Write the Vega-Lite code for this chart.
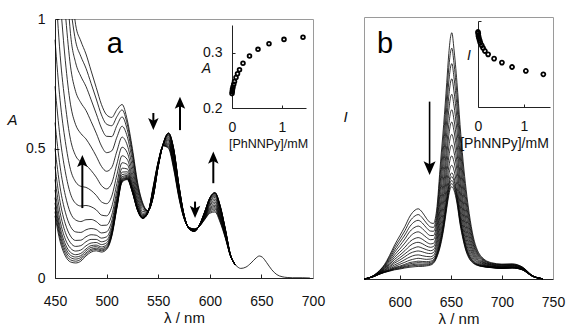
{
  "$schema": "https://vega.github.io/schema/vega-lite/v6.json",
  "width": 566,
  "height": 326,
  "autosize": "none",
  "padding": 0,
  "background": "white",
  "config": {
    "view": {"stroke": null},
    "font": "Liberation Sans",
    "axis": {
      "grid": false, "labelFlush": false, "labelOverlap": false,
      "domainColor": "#222", "tickColor": "#222", "labelColor": "#111", "titleColor": "#111",
      "labelFont": "Liberation Sans", "titleFont": "Liberation Sans",
      "labelFontSize": 14, "titleFontWeight": "normal", "titleFontSize": 15
    }
  },
  "datasets": {
    "absA": [
      {"w":450,"a":0.24,"b":0.256,"c":0.272,"d":0.29,"e":0.31,"f":0.34,"g":0.38,"h":0.43,"i":0.5,"j":0.6,"k":0.74,"l":0.92},
      {"w":452.5,"m":1},
      {"w":455,"a":0.14,"b":0.153,"c":0.166,"d":0.18,"e":0.196,"f":0.22,"g":0.252,"h":0.292,"i":0.348,"j":0.428,"k":0.54,"l":0.684,"m":0.86},
      {"w":456.5,"n":1},
      {"w":460,"a":0.085,"b":0.095,"c":0.106,"d":0.118,"e":0.131,"f":0.15,"g":0.176,"h":0.209,"i":0.254,"j":0.319,"k":0.41,"l":0.527,"m":0.67,"n":0.839},
      {"w":460.5,"o":1},
      {"w":463.8,"p":1},
      {"w":465,"a":0.062,"b":0.07,"c":0.079,"d":0.088,"e":0.099,"f":0.115,"g":0.136,"h":0.162,"i":0.199,"j":0.251,"k":0.325,"l":0.419,"m":0.535,"n":0.671,"o":0.818,"p":0.944},
      {"w":466.6,"q":1},
      {"w":469.2,"r":1},
      {"w":470,"a":0.058,"b":0.065,"c":0.073,"d":0.081,"e":0.09,"f":0.104,"g":0.122,"h":0.145,"i":0.178,"j":0.224,"k":0.288,"l":0.371,"m":0.472,"n":0.592,"o":0.72,"p":0.831,"q":0.914,"r":0.978},
      {"w":475,"a":0.065,"b":0.072,"c":0.079,"d":0.086,"e":0.095,"f":0.108,"g":0.125,"h":0.146,"i":0.176,"j":0.218,"k":0.278,"l":0.354,"m":0.448,"n":0.558,"o":0.677,"p":0.779,"q":0.856,"r":0.915},
      {"w":480,"a":0.085,"b":0.091,"c":0.097,"d":0.105,"e":0.112,"f":0.124,"g":0.14,"h":0.159,"i":0.186,"j":0.225,"k":0.28,"l":0.35,"m":0.436,"n":0.537,"o":0.647,"p":0.74,"q":0.81,"r":0.865},
      {"w":485,"a":0.1,"b":0.106,"c":0.111,"d":0.118,"e":0.125,"f":0.135,"g":0.149,"h":0.167,"i":0.191,"j":0.226,"k":0.275,"l":0.338,"m":0.415,"n":0.506,"o":0.604,"p":0.688,"q":0.751,"r":0.8},
      {"w":490,"a":0.105,"b":0.11,"c":0.115,"d":0.121,"e":0.127,"f":0.137,"g":0.149,"h":0.165,"i":0.187,"j":0.218,"k":0.263,"l":0.319,"m":0.389,"n":0.47,"o":0.559,"p":0.634,"q":0.691,"r":0.735},
      {"w":495,"a":0.1,"b":0.105,"c":0.109,"d":0.114,"e":0.12,"f":0.129,"g":0.14,"h":0.154,"i":0.174,"j":0.203,"k":0.243,"l":0.294,"m":0.357,"n":0.431,"o":0.51,"p":0.579,"q":0.63,"r":0.67},
      {"w":500,"a":0.11,"b":0.114,"c":0.118,"d":0.123,"e":0.128,"f":0.136,"g":0.146,"h":0.159,"i":0.178,"j":0.204,"k":0.24,"l":0.287,"m":0.344,"n":0.412,"o":0.484,"p":0.547,"q":0.594,"r":0.63},
      {"w":505,"a":0.16,"b":0.164,"c":0.167,"d":0.172,"e":0.176,"f":0.183,"g":0.192,"h":0.204,"i":0.22,"j":0.243,"k":0.275,"l":0.316,"m":0.367,"n":0.427,"o":0.491,"p":0.546,"q":0.588,"r":0.62},
      {"w":510,"a":0.27,"b":0.273,"c":0.276,"d":0.28,"e":0.283,"f":0.289,"g":0.297,"h":0.306,"i":0.319,"j":0.338,"k":0.365,"l":0.399,"m":0.441,"n":0.49,"o":0.544,"p":0.589,"q":0.623,"r":0.65},
      {"w":515,"a":0.37,"b":0.372,"c":0.375,"d":0.378,"e":0.381,"f":0.385,"g":0.391,"h":0.399,"i":0.409,"j":0.424,"k":0.445,"l":0.472,"m":0.505,"n":0.544,"o":0.586,"p":0.622,"q":0.649,"r":0.67},
      {"w":520,"a":0.38,"b":0.382,"c":0.384,"d":0.386,"e":0.388,"f":0.392,"g":0.396,"h":0.402,"i":0.41,"j":0.421,"k":0.438,"l":0.458,"m":0.484,"n":0.513,"o":0.546,"p":0.573,"q":0.594,"r":0.61},
      {"w":525,"a":0.33,"b":0.331,"c":0.333,"d":0.334,"e":0.336,"f":0.339,"g":0.342,"h":0.346,"i":0.352,"j":0.361,"k":0.373,"l":0.388,"m":0.407,"n":0.429,"o":0.452,"p":0.473,"q":0.488,"r":0.5},
      {"w":530,"a":0.26,"b":0.261,"c":0.262,"d":0.263,"e":0.264,"f":0.266,"g":0.268,"h":0.27,"i":0.274,"j":0.28,"k":0.288,"l":0.297,"m":0.31,"n":0.324,"o":0.339,"p":0.352,"q":0.362,"r":0.37},
      {"w":535,"a":0.23,"b":0.23,"c":0.231,"d":0.232,"e":0.232,"f":0.233,"g":0.234,"h":0.236,"i":0.238,"j":0.241,"k":0.245,"l":0.25,"m":0.257,"n":0.265,"o":0.273,"p":0.28,"q":0.286,"r":0.29},
      {"w":540,"a":0.25,"b":0.251,"c":0.251,"d":0.252,"e":0.253,"f":0.254,"g":0.254,"h":0.255,"i":0.256,"j":0.257,"k":0.257,"l":0.258,"m":0.259,"n":0.259,"o":0.26,"p":0.26,"q":0.26,"r":0.26},
      {"w":545,"a":0.35,"b":0.347,"c":0.344,"d":0.342,"e":0.339,"f":0.336,"g":0.333,"h":0.33,"i":0.326,"j":0.323,"k":0.32,"l":0.318,"m":0.315,"n":0.313,"o":0.312,"p":0.311,"q":0.31,"r":0.31},
      {"w":550,"a":0.45,"b":0.449,"c":0.447,"d":0.446,"e":0.444,"f":0.443,"g":0.441,"h":0.44,"i":0.438,"j":0.437,"k":0.435,"l":0.434,"m":0.433,"n":0.432,"o":0.431,"p":0.43,"q":0.43,"r":0.43},
      {"w":555,"a":0.51,"b":0.511,"c":0.511,"d":0.512,"e":0.513,"f":0.514,"g":0.514,"h":0.515,"i":0.516,"j":0.517,"k":0.517,"l":0.518,"m":0.519,"n":0.519,"o":0.52,"p":0.52,"q":0.52,"r":0.52},
      {"w":560,"a":0.5,"b":0.504,"c":0.508,"d":0.513,"e":0.517,"f":0.521,"g":0.526,"h":0.531,"i":0.535,"j":0.54,"k":0.544,"l":0.549,"m":0.552,"n":0.555,"o":0.558,"p":0.559,"q":0.559,"r":0.56},
      {"w":565,"a":0.42,"b":0.426,"c":0.431,"d":0.437,"e":0.442,"f":0.448,"g":0.454,"h":0.461,"i":0.467,"j":0.474,"k":0.479,"l":0.485,"m":0.49,"n":0.494,"o":0.497,"p":0.498,"q":0.499,"r":0.5},
      {"w":570,"a":0.31,"b":0.314,"c":0.317,"d":0.321,"e":0.324,"f":0.328,"g":0.332,"h":0.336,"i":0.34,"j":0.344,"k":0.347,"l":0.351,"m":0.354,"n":0.356,"o":0.358,"p":0.359,"q":0.36,"r":0.36},
      {"w":575,"a":0.23,"b":0.231,"c":0.232,"d":0.233,"e":0.234,"f":0.235,"g":0.236,"h":0.238,"i":0.239,"j":0.24,"k":0.241,"l":0.242,"m":0.243,"n":0.244,"o":0.244,"p":0.245,"q":0.245,"r":0.245},
      {"w":580,"a":0.195,"b":0.195,"c":0.194,"d":0.194,"e":0.194,"f":0.193,"g":0.193,"h":0.192,"i":0.192,"j":0.192,"k":0.191,"l":0.191,"m":0.191,"n":0.19,"o":0.19,"p":0.19,"q":0.19,"r":0.19},
      {"w":585,"a":0.19,"b":0.189,"c":0.189,"d":0.188,"e":0.187,"f":0.187,"g":0.186,"h":0.185,"i":0.184,"j":0.183,"k":0.183,"l":0.182,"m":0.181,"n":0.181,"o":0.18,"p":0.18,"q":0.18,"r":0.18},
      {"w":590,"a":0.2,"b":0.2,"c":0.201,"d":0.201,"e":0.201,"f":0.202,"g":0.202,"h":0.203,"i":0.203,"j":0.203,"k":0.204,"l":0.204,"m":0.204,"n":0.205,"o":0.205,"p":0.205,"q":0.205,"r":0.205},
      {"w":595,"a":0.225,"b":0.227,"c":0.229,"d":0.231,"e":0.233,"f":0.236,"g":0.238,"h":0.24,"i":0.243,"j":0.245,"k":0.247,"l":0.249,"m":0.251,"n":0.253,"o":0.254,"p":0.254,"q":0.255,"r":0.255},
      {"w":600,"a":0.25,"b":0.254,"c":0.258,"d":0.263,"e":0.267,"f":0.271,"g":0.276,"h":0.281,"i":0.285,"j":0.29,"k":0.294,"l":0.299,"m":0.302,"n":0.305,"o":0.308,"p":0.309,"q":0.309,"r":0.31},
      {"w":605,"a":0.255,"b":0.26,"c":0.266,"d":0.271,"e":0.276,"f":0.281,"g":0.287,"h":0.293,"i":0.299,"j":0.305,"k":0.311,"l":0.316,"m":0.32,"n":0.324,"o":0.327,"p":0.329,"q":0.329,"r":0.33},
      {"w":610,"a":0.215,"b":0.22,"c":0.224,"d":0.229,"e":0.233,"f":0.238,"g":0.243,"h":0.248,"i":0.253,"j":0.259,"k":0.263,"l":0.268,"m":0.272,"n":0.275,"o":0.277,"p":0.279,"q":0.279,"r":0.28},
      {"w":615,"a":0.155,"b":0.157,"c":0.16,"d":0.162,"e":0.165,"f":0.167,"g":0.17,"h":0.173,"i":0.176,"j":0.178,"k":0.181,"l":0.183,"m":0.185,"n":0.187,"o":0.189,"p":0.189,"q":0.19,"r":0.19},
      {"w":620,"a":0.085,"b":0.085,"c":0.086,"d":0.086,"e":0.086,"f":0.087,"g":0.087,"h":0.088,"i":0.088,"j":0.088,"k":0.089,"l":0.089,"m":0.089,"n":0.09,"o":0.09,"p":0.09,"q":0.09,"r":0.09},
      {"w":625,"a":0.05,"b":0.05,"c":0.05,"d":0.05,"e":0.05,"f":0.05,"g":0.05,"h":0.05,"i":0.05,"j":0.05,"k":0.05,"l":0.05,"m":0.05,"n":0.05,"o":0.05,"p":0.05,"q":0.05,"r":0.05}
    ],
    "tailA": [
      {"w":625,"A":0.05},{"w":630,"A":0.037},{"w":635,"A":0.042},{"w":640,"A":0.058},{"w":645,"A":0.078},
      {"w":648,"A":0.085},{"w":651,"A":0.08},{"w":655,"A":0.06},{"w":660,"A":0.032},{"w":665,"A":0.013},
      {"w":670,"A":0.005},{"w":675,"A":0.002},{"w":680,"A":0.001},{"w":690,"A":0.001},{"w":697,"A":0}
    ],
    "arrA": [
      {"x":476.5,"t":0.27,"e":0.455,"h":0.475,"d":"up"},
      {"x":545.3,"t":0.637,"e":0.59,"h":0.571,"d":"down"},
      {"x":571.1,"t":0.571,"e":0.68,"h":0.7,"d":"up"},
      {"x":585.7,"t":0.295,"e":0.25,"h":0.232,"d":"down"},
      {"x":603.4,"t":0.366,"e":0.468,"h":0.488,"d":"up"}
    ],
    "arrB": [
      {"x":629.2,"t":0.677,"e":0.42,"h":0.397,"d":"down"}
    ],
    "inA": [
      {"c":0,"A":0.226},{"c":0.005,"A":0.23},{"c":0.01,"A":0.234},{"c":0.02,"A":0.238},{"c":0.035,"A":0.243},
      {"c":0.05,"A":0.248},{"c":0.08,"A":0.255},{"c":0.11,"A":0.262},{"c":0.15,"A":0.269},{"c":0.22,"A":0.281},
      {"c":0.35,"A":0.294},{"c":0.52,"A":0.306},{"c":0.74,"A":0.316},{"c":1.04,"A":0.324},{"c":1.42,"A":0.328}
    ],
    "inB": [
      {"c":0,"I":0.872},{"c":0.005,"I":0.853},{"c":0.01,"I":0.826},{"c":0.02,"I":0.802},{"c":0.035,"I":0.775},
      {"c":0.05,"I":0.748},{"c":0.08,"I":0.717},{"c":0.11,"I":0.686},{"c":0.15,"I":0.651},{"c":0.22,"I":0.612},
      {"c":0.35,"I":0.562},{"c":0.52,"I":0.516},{"c":0.74,"I":0.465},{"c":1.04,"I":0.419},{"c":1.42,"I":0.38}
    ],
    "fluB": [
      {"w":565,"a":0,"b":0,"c":0,"d":0,"e":0,"f":0,"g":0,"h":0,"i":0,"j":0,"k":0,"l":0,"m":0,"n":0,"o":0,"p":0},
      {"w":570,"a":0.005,"b":0.005,"c":0.005,"d":0.005,"e":0.005,"f":0.005,"g":0.005,"h":0.004,"i":0.004,"j":0.004,"k":0.004,"l":0.004,"m":0.004,"n":0.004,"o":0.004,"p":0.004},
      {"w":575,"a":0.015,"b":0.015,"c":0.014,"d":0.014,"e":0.013,"f":0.013,"g":0.012,"h":0.012,"i":0.011,"j":0.011,"k":0.011,"l":0.01,"m":0.01,"n":0.01,"o":0.01,"p":0.01},
      {"w":580,"a":0.032,"b":0.031,"c":0.029,"d":0.028,"e":0.026,"f":0.025,"g":0.024,"h":0.023,"i":0.022,"j":0.021,"k":0.02,"l":0.019,"m":0.019,"n":0.018,"o":0.0185,"p":0.019},
      {"w":585,"a":0.055,"b":0.052,"c":0.049,"d":0.046,"e":0.043,"f":0.04,"g":0.038,"h":0.035,"i":0.033,"j":0.031,"k":0.029,"l":0.028,"m":0.026,"n":0.025,"o":0.0255,"p":0.027},
      {"w":590,"a":0.09,"b":0.084,"c":0.078,"d":0.072,"e":0.066,"f":0.06,"g":0.055,"h":0.05,"i":0.046,"j":0.042,"k":0.038,"l":0.035,"m":0.032,"n":0.03,"o":0.031,"p":0.0335},
      {"w":595,"a":0.13,"b":0.121,"c":0.111,"d":0.102,"e":0.092,"f":0.083,"g":0.075,"h":0.067,"i":0.061,"j":0.054,"k":0.048,"l":0.044,"m":0.039,"n":0.035,"o":0.037,"p":0.0415},
      {"w":600,"a":0.165,"b":0.152,"c":0.14,"d":0.127,"e":0.114,"f":0.102,"g":0.091,"h":0.081,"i":0.072,"j":0.063,"k":0.056,"l":0.049,"m":0.043,"n":0.038,"o":0.0405,"p":0.046},
      {"w":605,"a":0.2,"b":0.184,"c":0.168,"d":0.153,"e":0.137,"f":0.121,"g":0.108,"h":0.096,"i":0.085,"j":0.074,"k":0.064,"l":0.056,"m":0.048,"n":0.042,"o":0.045,"p":0.052},
      {"w":610,"a":0.24,"b":0.221,"c":0.201,"d":0.182,"e":0.162,"f":0.143,"g":0.127,"h":0.111,"i":0.098,"j":0.084,"k":0.072,"l":0.063,"m":0.053,"n":0.045,"o":0.049,"p":0.058},
      {"w":615,"a":0.263,"b":0.241,"c":0.22,"d":0.198,"e":0.177,"f":0.155,"g":0.138,"h":0.12,"i":0.105,"j":0.091,"k":0.077,"l":0.066,"m":0.056,"n":0.047,"o":0.0515,"p":0.061},
      {"w":618,"a":0.268,"b":0.246,"c":0.224,"d":0.202,"e":0.18,"f":0.158,"g":0.14,"h":0.123,"i":0.107,"j":0.092,"k":0.079,"l":0.068,"m":0.057,"n":0.048,"o":0.0525,"p":0.0625},
      {"w":622,"a":0.255,"b":0.234,"c":0.214,"d":0.193,"e":0.172,"f":0.152,"g":0.135,"h":0.118,"i":0.104,"j":0.089,"k":0.077,"l":0.067,"m":0.056,"n":0.048,"o":0.052,"p":0.0615},
      {"w":626,"a":0.232,"b":0.214,"c":0.196,"d":0.177,"e":0.159,"f":0.141,"g":0.126,"h":0.112,"i":0.099,"j":0.086,"k":0.075,"l":0.066,"m":0.057,"n":0.05,"o":0.0535,"p":0.0615},
      {"w":630,"a":0.215,"b":0.199,"c":0.183,"d":0.166,"e":0.15,"f":0.134,"g":0.121,"h":0.108,"i":0.097,"j":0.085,"k":0.076,"l":0.068,"m":0.059,"n":0.053,"o":0.056,"p":0.0635},
      {"w":633,"a":0.212,"b":0.197,"c":0.182,"d":0.166,"e":0.151,"f":0.136,"g":0.124,"h":0.112,"i":0.101,"j":0.09,"k":0.081,"l":0.074,"m":0.066,"n":0.06,"o":0.063,"p":0.07},
      {"w":636,"a":0.26,"b":0.242,"c":0.224,"d":0.206,"e":0.188,"f":0.17,"g":0.156,"h":0.141,"i":0.129,"j":0.116,"k":0.105,"l":0.096,"m":0.087,"n":0.08,"o":0.0835,"p":0.0915},
      {"w":640,"a":0.45,"b":0.418,"c":0.386,"d":0.354,"e":0.322,"f":0.29,"g":0.264,"h":0.239,"i":0.216,"j":0.194,"k":0.175,"l":0.159,"m":0.143,"n":0.13,"o":0.1365,"p":0.151},
      {"w":643,"a":0.59,"b":0.55,"c":0.51,"d":0.47,"e":0.43,"f":0.39,"g":0.358,"h":0.326,"i":0.298,"j":0.27,"k":0.246,"l":0.226,"m":0.206,"n":0.19,"o":0.198,"p":0.216},
      {"w":646,"a":0.75,"b":0.702,"c":0.654,"d":0.606,"e":0.558,"f":0.51,"g":0.472,"h":0.433,"i":0.4,"j":0.366,"k":0.337,"l":0.313,"m":0.289,"n":0.27,"o":0.2795,"p":0.301},
      {"w":648,"a":0.86,"b":0.806,"c":0.752,"d":0.698,"e":0.644,"f":0.59,"g":0.547,"h":0.504,"i":0.466,"j":0.428,"k":0.396,"l":0.369,"m":0.342,"n":0.32,"o":0.331,"p":0.3555},
      {"w":650,"a":0.93,"b":0.872,"c":0.814,"d":0.756,"e":0.698,"f":0.64,"g":0.594,"h":0.547,"i":0.507,"j":0.466,"k":0.431,"l":0.402,"m":0.373,"n":0.35,"o":0.3615,"p":0.3875},
      {"w":651,"a":0.94,"b":0.881,"c":0.822,"d":0.764,"e":0.705,"f":0.646,"g":0.599,"h":0.552,"i":0.511,"j":0.47,"k":0.434,"l":0.405,"m":0.376,"n":0.352,"o":0.364,"p":0.3905},
      {"w":653,"a":0.88,"b":0.826,"c":0.772,"d":0.718,"e":0.664,"f":0.61,"g":0.567,"h":0.524,"i":0.486,"j":0.448,"k":0.416,"l":0.389,"m":0.362,"n":0.34,"o":0.351,"p":0.3755},
      {"w":656,"a":0.75,"b":0.704,"c":0.658,"d":0.612,"e":0.566,"f":0.52,"g":0.483,"h":0.446,"i":0.414,"j":0.382,"k":0.354,"l":0.331,"m":0.308,"n":0.29,"o":0.299,"p":0.3195},
      {"w":659,"a":0.59,"b":0.552,"c":0.514,"d":0.476,"e":0.438,"f":0.4,"g":0.37,"h":0.339,"i":0.313,"j":0.286,"k":0.263,"l":0.244,"m":0.225,"n":0.21,"o":0.2175,"p":0.2345},
      {"w":662,"a":0.45,"b":0.42,"c":0.39,"d":0.36,"e":0.33,"f":0.3,"g":0.276,"h":0.252,"i":0.231,"j":0.21,"k":0.192,"l":0.177,"m":0.162,"n":0.15,"o":0.156,"p":0.1695},
      {"w":665,"a":0.34,"b":0.317,"c":0.293,"d":0.27,"e":0.246,"f":0.223,"g":0.204,"h":0.185,"i":0.168,"j":0.152,"k":0.138,"l":0.126,"m":0.114,"n":0.105,"o":0.1095,"p":0.12},
      {"w":668,"a":0.25,"b":0.233,"c":0.216,"d":0.198,"e":0.181,"f":0.164,"g":0.15,"h":0.136,"i":0.124,"j":0.112,"k":0.102,"l":0.093,"m":0.085,"n":0.078,"o":0.0815,"p":0.089},
      {"w":672,"a":0.16,"b":0.15,"c":0.14,"d":0.13,"e":0.12,"f":0.11,"g":0.102,"h":0.094,"i":0.087,"j":0.08,"k":0.074,"l":0.069,"m":0.064,"n":0.06,"o":0.062,"p":0.0665},
      {"w":676,"a":0.11,"b":0.104,"c":0.098,"d":0.093,"e":0.087,"f":0.081,"g":0.076,"h":0.072,"i":0.068,"j":0.064,"k":0.06,"l":0.057,"m":0.054,"n":0.052,"o":0.053,"p":0.0555},
      {"w":680,"a":0.085,"b":0.081,"c":0.078,"d":0.074,"e":0.07,"f":0.067,"g":0.064,"h":0.061,"i":0.058,"j":0.055,"k":0.053,"l":0.051,"m":0.049,"n":0.048,"o":0.0485,"p":0.05},
      {"w":690,"a":0.062,"b":0.06,"c":0.058,"d":0.056,"e":0.054,"f":0.053,"g":0.051,"h":0.049,"i":0.048,"j":0.047,"k":0.046,"l":0.045,"m":0.044,"n":0.043,"o":0.0435,"p":0.0445},
      {"w":700,"a":0.057,"b":0.055,"c":0.054,"d":0.052,"e":0.05,"f":0.049,"g":0.047,"h":0.046,"i":0.045,"j":0.043,"k":0.042,"l":0.042,"m":0.041,"n":0.04,"o":0.0405,"p":0.0415},
      {"w":710,"a":0.058,"b":0.056,"c":0.055,"d":0.053,"e":0.052,"f":0.05,"g":0.049,"h":0.047,"i":0.046,"j":0.045,"k":0.044,"l":0.043,"m":0.043,"n":0.042,"o":0.0425,"p":0.043},
      {"w":720,"a":0.046,"b":0.045,"c":0.044,"d":0.043,"e":0.042,"f":0.041,"g":0.04,"h":0.039,"i":0.038,"j":0.037,"k":0.037,"l":0.036,"m":0.035,"n":0.035,"o":0.035,"p":0.0355},
      {"w":730,"a":0.013,"b":0.013,"c":0.012,"d":0.012,"e":0.012,"f":0.012,"g":0.011,"h":0.011,"i":0.011,"j":0.011,"k":0.01,"l":0.01,"m":0.01,"n":0.01,"o":0.01,"p":0.01},
      {"w":740,"a":0.001,"b":0.001,"c":0.001,"d":0.001,"e":0.001,"f":0.001,"g":0.001,"h":0.001,"i":0.001,"j":0.001,"k":0.001,"l":0.001,"m":0.001,"n":0.001,"o":0.001,"p":0.001}
    ]
  },
  "resolve": {
    "scale": {"x": "independent", "y": "independent"},
    "axis": {"x": "independent", "y": "independent"}
  },
  "layer": [
    {
      "data": {"name": "absA"},
      "transform": [
        {"fold": ["a","b","c","d","e","f","g","h","i","j","k","l","m","n","o","p","q","r"], "as": ["key","A"]},
        {"filter": "isValid(datum.A)"}
      ],
      "mark": {"type": "line", "interpolate": "monotone", "color": "black", "strokeWidth": 0.8},
      "encoding": {
        "x": {"field": "w", "type": "quantitative",
          "scale": {"domain": [450,700], "range": [55,313], "nice": false, "zero": false},
          "axis": {"orient": "bottom", "offset": -48, "values": [450,500,550,600,650,700], "tickSize": -4, "labelPadding": 20,
            "title": "λ / nm", "titleX": 184, "titleY": 44, "titleAlign": "center", "titleBaseline": "alphabetic"}},
        "y": {"field": "A", "type": "quantitative",
          "scale": {"domain": [0,1], "range": [278,19], "nice": false, "zero": false},
          "axis": {"orient": "left", "offset": -55, "values": [0,0.5,1], "format": "~g", "tickSize": -4, "labelPadding": 14,
            "title": "A", "titleFontStyle": "italic", "titleAngle": 0, "titleX": -43, "titleY": 119, "titleAlign": "center", "titleBaseline": "middle"}},
        "detail": {"field": "key", "type": "nominal"}
      }
    },
    {
      "data": {"name": "tailA"},
      "mark": {"type": "line", "interpolate": "monotone", "color": "black", "strokeWidth": 0.8},
      "encoding": {
        "x": {"field": "w", "type": "quantitative",
          "scale": {"domain": [450,700], "range": [55,313], "nice": false, "zero": false},
          "axis": {"orient": "top", "offset": -19, "domainColor": "#9a9a9a", "ticks": false, "labels": false, "title": null}},
        "y": {"field": "A", "type": "quantitative",
          "scale": {"domain": [0,1], "range": [278,19], "nice": false, "zero": false},
          "axis": {"orient": "right", "offset": -253, "domainColor": "#9a9a9a", "ticks": false, "labels": false, "title": null}}
      }
    },
    {
      "data": {"name": "arrA"},
      "mark": {"type": "rule", "color": "black", "strokeWidth": 2},
      "encoding": {
        "x": {"field": "x", "type": "quantitative", "scale": {"domain": [450,700], "range": [55,313], "nice": false, "zero": false}, "axis": null},
        "y": {"field": "t", "type": "quantitative", "scale": {"domain": [0,1], "range": [278,19], "nice": false, "zero": false}, "axis": null},
        "y2": {"field": "e"}
      }
    },
    {
      "data": {"name": "arrA"},
      "mark": {"type": "point", "filled": true, "color": "black", "opacity": 1, "size": 110, "strokeWidth": 0},
      "encoding": {
        "x": {"field": "x", "type": "quantitative", "scale": {"domain": [450,700], "range": [55,313], "nice": false, "zero": false}, "axis": null},
        "y": {"field": "h", "type": "quantitative", "scale": {"domain": [0,1], "range": [278,19], "nice": false, "zero": false}, "axis": null},
        "shape": {"field": "d", "type": "nominal", "legend": null,
          "scale": {"domain": ["up","down"], "range": ["M0,0L1,2.3L0,1.8L-1,2.3Z", "M0,0L1,-2.3L0,-1.8L-1,-2.3Z"]}}
      }
    },
    {
      "data": {"values": [{"x": 508, "y": 0.869, "t": "a"}]},
      "mark": {"type": "text", "fontSize": 29, "align": "center", "baseline": "alphabetic", "color": "black", "font": "Liberation Sans"},
      "encoding": {
        "x": {"field": "x", "type": "quantitative", "scale": {"domain": [450,700], "range": [55,313], "nice": false, "zero": false}, "axis": null},
        "y": {"field": "y", "type": "quantitative", "scale": {"domain": [0,1], "range": [278,19], "nice": false, "zero": false}, "axis": null},
        "text": {"field": "t"}
      }
    },
    {
      "data": {"name": "inA"},
      "mark": {"type": "point", "shape": "circle", "filled": false, "color": "black", "strokeWidth": 1.8, "size": 14, "opacity": 1},
      "encoding": {
        "x": {"field": "c", "type": "quantitative",
          "scale": {"domain": [0,1.48], "range": [232,306], "nice": false, "zero": false},
          "axis": {"orient": "bottom", "offset": -218, "values": [0,1], "format": "d", "tickSize": -3, "labelPadding": 15,
            "title": "[PhNNPy]/mM", "titleFontSize": 12.5, "titleX": 268, "titleY": 39, "titleAlign": "center", "titleBaseline": "alphabetic"}},
        "y": {"field": "A", "type": "quantitative",
          "scale": {"domain": [0.2,0.35], "range": [108,25], "nice": false, "zero": false},
          "axis": {"orient": "left", "offset": -232, "values": [0.2,0.3], "format": ".1f", "tickSize": -3, "labelPadding": 13,
            "title": "A", "titleFontSize": 14, "titleFontStyle": "italic", "titleAngle": 0, "titleX": -26, "titleY": 68, "titleAlign": "center", "titleBaseline": "middle"}}
      }
    },
    {
      "data": {"name": "fluB"},
      "transform": [
        {"fold": ["a","b","c","d","e","f","g","h","i","j","k","l","m","n","o","p"], "as": ["key","I"]},
        {"filter": "isValid(datum.I)"}
      ],
      "mark": {"type": "line", "interpolate": "monotone", "color": "black", "strokeWidth": 0.8},
      "encoding": {
        "x": {"field": "w", "type": "quantitative",
          "scale": {"domain": [565,750], "range": [364,553], "nice": false, "zero": false},
          "axis": {"orient": "bottom", "offset": -47, "values": [600,650,700,750], "tickSize": -4, "labelPadding": 20,
            "title": "λ / nm", "titleX": 458.5, "titleY": 44, "titleAlign": "center", "titleBaseline": "alphabetic"}},
        "y": {"field": "I", "type": "quantitative",
          "scale": {"domain": [0,1], "range": [279,17], "nice": false, "zero": false},
          "axis": {"orient": "left", "offset": -364, "domainColor": "#9a9a9a", "ticks": false, "labels": false,
            "title": "I", "titleFontStyle": "italic", "titleAngle": 0, "titleX": -19, "titleY": 116, "titleAlign": "center", "titleBaseline": "middle"}},
        "detail": {"field": "key", "type": "nominal"}
      }
    },
    {
      "data": {"name": "arrB"},
      "mark": {"type": "rule", "color": "black", "strokeWidth": 1.6},
      "encoding": {
        "x": {"field": "x", "type": "quantitative",
          "scale": {"domain": [565,750], "range": [364,553], "nice": false, "zero": false},
          "axis": {"orient": "top", "offset": -17, "domainColor": "#9a9a9a", "ticks": false, "labels": false, "title": null}},
        "y": {"field": "t", "type": "quantitative",
          "scale": {"domain": [0,1], "range": [279,17], "nice": false, "zero": false},
          "axis": {"orient": "right", "offset": -13, "domainColor": "#9a9a9a", "ticks": false, "labels": false, "title": null}},
        "y2": {"field": "e"}
      }
    },
    {
      "data": {"name": "arrB"},
      "mark": {"type": "point", "filled": true, "color": "black", "opacity": 1, "size": 144, "strokeWidth": 0},
      "encoding": {
        "x": {"field": "x", "type": "quantitative", "scale": {"domain": [565,750], "range": [364,553], "nice": false, "zero": false}, "axis": null},
        "y": {"field": "h", "type": "quantitative", "scale": {"domain": [0,1], "range": [279,17], "nice": false, "zero": false}, "axis": null},
        "shape": {"field": "d", "type": "nominal", "legend": null,
          "scale": {"domain": ["up","down"], "range": ["M0,0L1,2.3L0,1.8L-1,2.3Z", "M0,0L1,-2.3L0,-1.8L-1,-2.3Z"]}}
      }
    },
    {
      "data": {"values": [{"x": 585.6, "y": 0.863, "t": "b"}]},
      "mark": {"type": "text", "fontSize": 29, "align": "center", "baseline": "alphabetic", "color": "black", "font": "Liberation Sans"},
      "encoding": {
        "x": {"field": "x", "type": "quantitative", "scale": {"domain": [565,750], "range": [364,553], "nice": false, "zero": false}, "axis": null},
        "y": {"field": "y", "type": "quantitative", "scale": {"domain": [0,1], "range": [279,17], "nice": false, "zero": false}, "axis": null},
        "text": {"field": "t"}
      }
    },
    {
      "data": {"name": "inB"},
      "mark": {"type": "point", "shape": "circle", "filled": false, "color": "black", "strokeWidth": 1.8, "size": 16, "opacity": 1},
      "encoding": {
        "x": {"field": "c", "type": "quantitative",
          "scale": {"domain": [0,1.565], "range": [478,550], "nice": false, "zero": false},
          "axis": {"orient": "bottom", "offset": -219, "values": [0,1], "format": "d", "tickSize": -3, "labelPadding": 15,
            "title": "[PhNNPy]/mM", "titleFontSize": 14, "titleX": 504, "titleY": 40, "titleAlign": "center", "titleBaseline": "alphabetic"}},
        "y": {"field": "I", "type": "quantitative",
          "scale": {"domain": [0,1], "range": [107,21], "nice": false, "zero": false},
          "axis": {"orient": "left", "offset": -478, "values": [1], "labels": false, "tickSize": -3,
            "title": "I", "titleFontSize": 14, "titleFontStyle": "italic", "titleAngle": 0, "titleX": -9.5, "titleY": 55.5, "titleAlign": "center", "titleBaseline": "middle"}}
      }
    }
  ]
}
